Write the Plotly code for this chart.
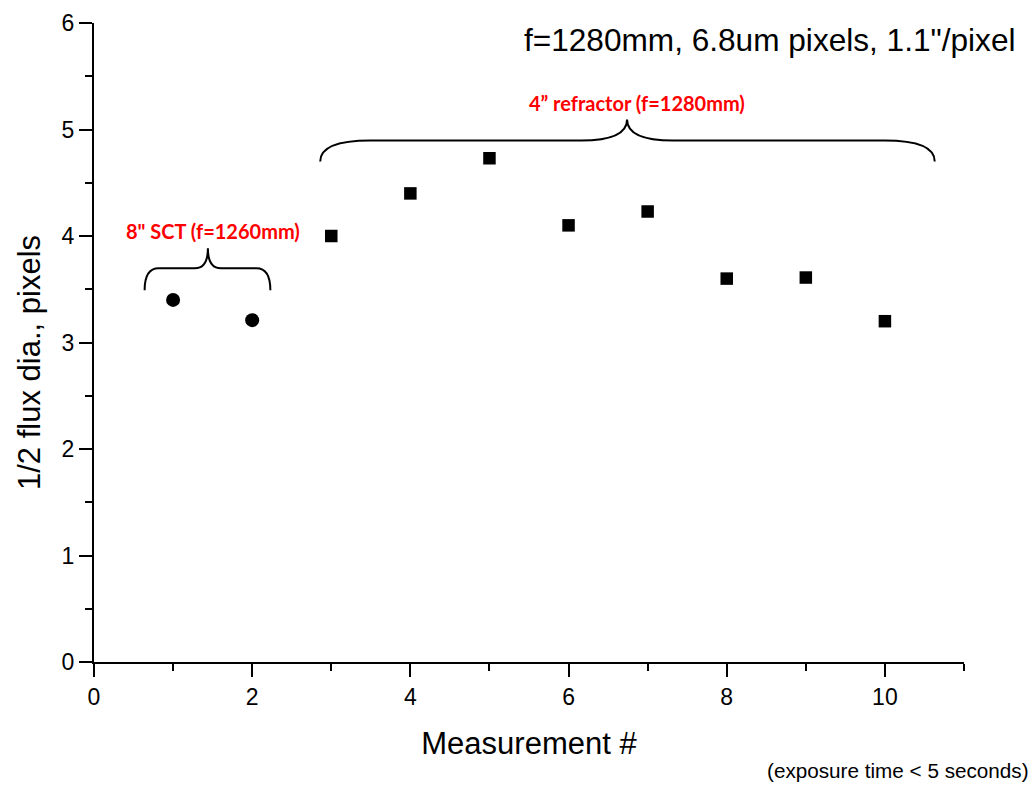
import plotly.graph_objects as go

# Measurements: 8" SCT (1-2) and 4" refractor (3-10)
sct_x = [1, 2]
sct_y = [3.40, 3.21]
refr_x = [3, 4, 5, 6, 7, 8, 9, 10]
refr_y = [4.00, 4.40, 4.73, 4.10, 4.23, 3.60, 3.61, 3.20]

x_ticks = [0, 2, 4, 6, 8, 10]
y_ticks = [0, 1, 2, 3, 4, 5, 6]

W, H = 1036, 785
M_L, M_R, M_T, M_B = 94, 72, 23, 123
X_RANGE = [0, 11]
Y_RANGE = [0, 6]
PW = W - M_L - M_R
PH = H - M_T - M_B

# data units per screen pixel, used to shape the brace curves
ux = (X_RANGE[1] - X_RANGE[0]) / PW
uy = (Y_RANGE[1] - Y_RANGE[0]) / PH


def px_to_paper(px, py):
    """Convert a page pixel position to paper coordinates."""
    return (px - M_L) / PW, (H - M_B - py) / PH


def brace(x0, x1, xm, y_end, rise, tip, r_end, r_tip):
    """Curly brace opening downward, path in data coordinates."""
    yl = y_end + rise * uy
    yt = yl + tip * uy
    re = r_end * ux
    rt = r_tip * ux
    return (
        f"M {x0},{y_end} Q {x0},{yl} {x0 + re},{yl} "
        f"L {xm - rt},{yl} Q {xm},{yl} {xm},{yt} "
        f"Q {xm},{yl} {xm + rt},{yl} "
        f"L {x1 - re},{yl} Q {x1},{yl} {x1},{y_end}"
    )


fig = go.Figure()

fig.add_trace(go.Scatter(
    x=sct_x, y=sct_y, mode="markers",
    marker=dict(symbol="circle", size=14, color="black"),
    showlegend=False,
))
fig.add_trace(go.Scatter(
    x=refr_x, y=refr_y, mode="markers",
    marker=dict(symbol="square", size=12.5, color="black"),
    showlegend=False,
))

line = dict(color="black", width=2)
fig.add_shape(type="path", xref="x", yref="y", line=line,
              path=brace(0.64, 2.23, 1.44, 3.49, 22, 20, 14, 13))
fig.add_shape(type="path", xref="x", yref="y", line=line,
              path=brace(2.86, 10.63, 6.74, 4.70, 21, 21, 50, 46))

red_font = dict(family="Lato", size=20, color="#ff0000", weight="bold")
fig.add_annotation(x=1.51, y=4.05, xref="x", yref="y", text="8\" SCT (f=1260mm)",
                   showarrow=False, font=red_font)
fig.add_annotation(x=6.86, y=5.25, xref="x", yref="y", text="4\u201d refractor (f=1280mm)",
                   showarrow=False, font=red_font)

sans = "Liberation Sans"

ax, ay = px_to_paper(1018, 40)
fig.add_annotation(x=ax, y=ay, xref="paper", yref="paper",
                   xanchor="right", yanchor="middle",
                   text="f=1280mm, 6.8um pixels, 1.1\"/pixel", showarrow=False,
                   font=dict(family=sans, size=31.6, color="black"))

ax, ay = px_to_paper(1031, 770)
fig.add_annotation(x=ax, y=ay, xref="paper", yref="paper",
                   xanchor="right", yanchor="middle",
                   text="(exposure time < 5 seconds)", showarrow=False,
                   font=dict(family=sans, size=20.7, color="black"))

# y axis title, centred a little below the middle of the axis
ax, ay = px_to_paper(29, 363)
fig.add_annotation(x=ax, y=ay, xref="paper", yref="paper",
                   xanchor="center", yanchor="middle", textangle=-90,
                   text="1/2 flux dia., pixels", showarrow=False,
                   font=dict(family=sans, size=31, color="black"))

axis_common = dict(
    showline=True, linecolor="black", linewidth=2,
    ticks="outside", ticklen=13, tickwidth=2, tickcolor="black",
    showgrid=False, zeroline=False,
    tickfont=dict(family=sans, size=23, color="black"),
)

fig.update_xaxes(
    range=X_RANGE, tickvals=x_ticks, ticktext=[str(v) for v in x_ticks],
    minor=dict(ticks="outside", ticklen=7, tickwidth=2, tickcolor="black", dtick=1, tick0=0),
    title_text="Measurement #", title_standoff=24,
    title_font=dict(family=sans, size=31, color="black"),
    **axis_common,
)
fig.update_yaxes(
    range=Y_RANGE, tickvals=y_ticks, ticktext=[str(v) for v in y_ticks],
    minor=dict(ticks="outside", ticklen=7, tickwidth=2, tickcolor="black", dtick=0.5, tick0=0),
    **axis_common,
)

fig.update_layout(
    width=W, height=H,
    margin=dict(l=M_L, r=M_R, t=M_T, b=M_B, autoexpand=False),
    plot_bgcolor="white", paper_bgcolor="white",
    showlegend=False,
)

fig.write_html("out.html")
